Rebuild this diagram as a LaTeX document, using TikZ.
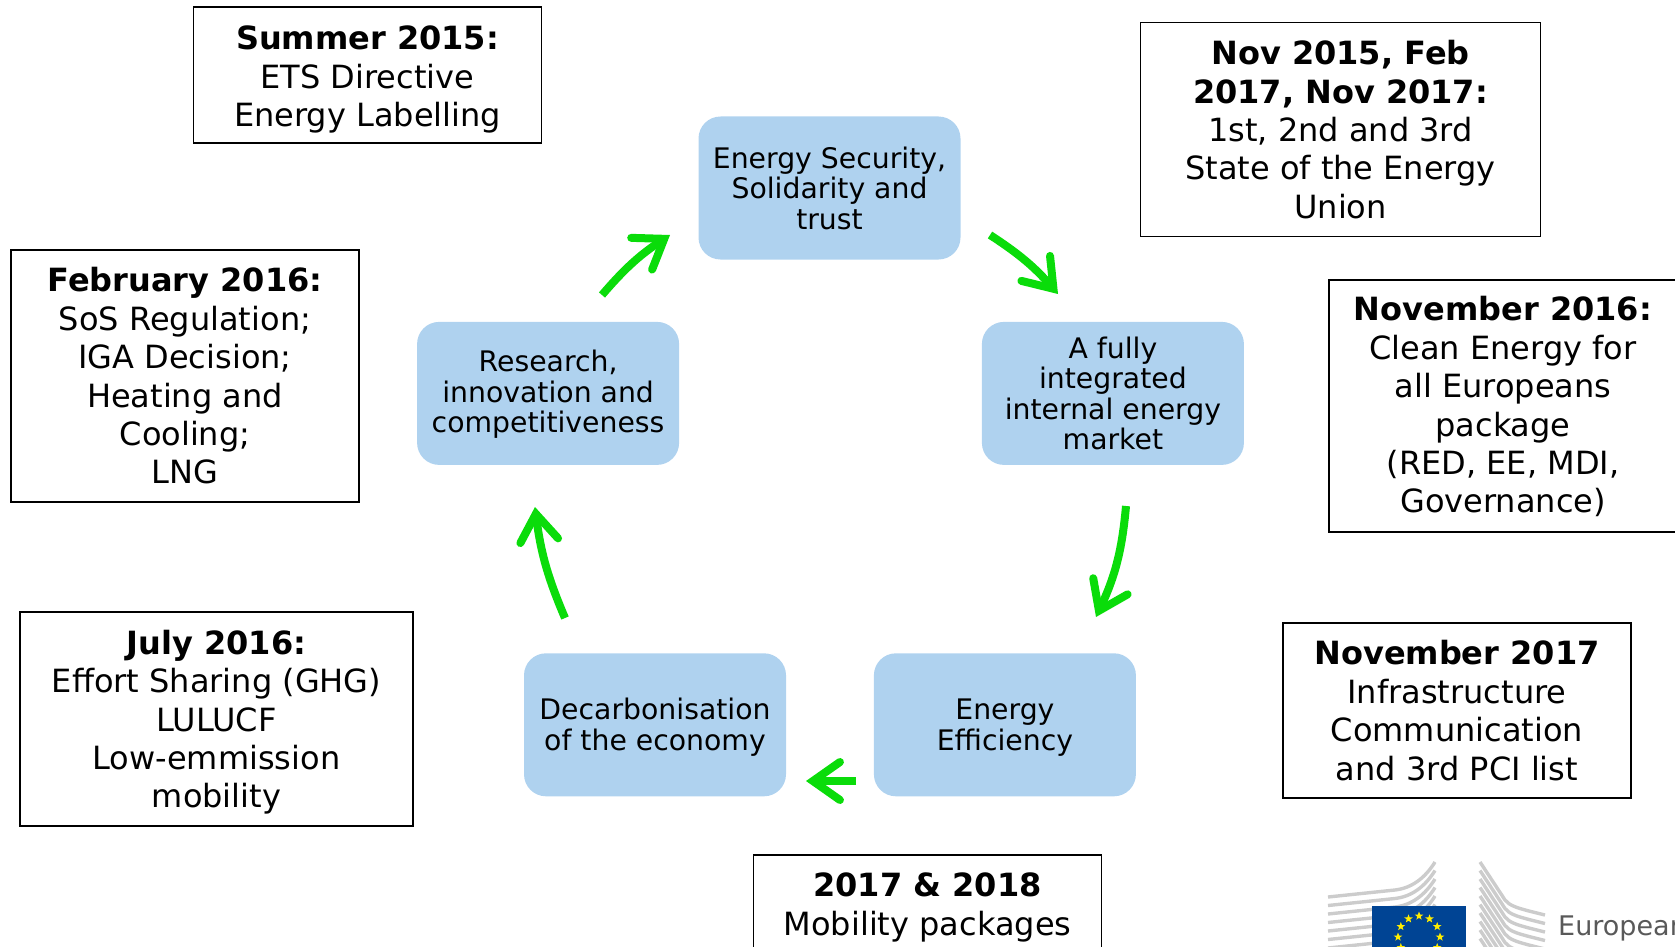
\documentclass[tikz,border=0pt]{standalone}
\usepackage{fontspec}
\setmainfont{DejaVu Sans}
\usetikzlibrary{positioning, arrows.meta, shapes.geometric}
\definecolor{flowblue}{HTML}{AFD2EF}
\definecolor{flowgreen}{HTML}{0ADC0A}
\definecolor{flagblue}{HTML}{004494}
\definecolor{flagyellow}{HTML}{FFED00}
\newcommand{\firstline}[1]{\rule{0pt}{#1}}
\begin{document}
\begin{tikzpicture}[x=1pt, y=-1pt,
  datebox/.style={rectangle, draw=black, line width=1.9pt, align=center, minimum width=348pt, inner sep=0pt, font=\fontsize{32}{38.4}\selectfont},
  flowbox/.style={rectangle, rounded corners=22pt, fill=flowblue, align=center, minimum width=262pt, minimum height=143pt, inner sep=0pt, font=\fontsize{28.3}{30.5}\selectfont},
  cyclearrow/.style={->, >={Straight Barb[length=27pt, width=38pt, line cap=round]}, flowgreen, line width=8pt},
  eustar/.style={star, star points=5, star point ratio=2.4, fill=flagyellow, inner sep=0pt, minimum size=9pt},
  buildline/.style={black!20, line width=3.4pt}]
\clip (0,0) rectangle (1675,947);
\useasboundingbox (0,0) rectangle (1675,947);
\node[flowbox]  (security)    at (829.5,188) {Energy Security,\\Solidarity and\\trust};
\node[flowbox]  (market)      [below right=62pt and 21pt of security] {A fully\\integrated\\internal energy\\market};
\node[flowbox]  (research)    [below left=62pt and 19pt of security] {\firstline{24pt}Research,\\innovation and\\competitiveness};
\node[flowbox]  (efficiency)  [below=188pt of market, xshift=-108pt] {\firstline{26pt}Energy\\Efficiency};
\node[flowbox]  (decarb)      [left=87.5pt of efficiency] {\firstline{26pt}Decarbonisation\\of the economy};
\node[datebox, minimum height=136pt]                       (summer)   at (367.5,75)  {\firstline{33pt}\textbf{Summer 2015:}\\ETS Directive\\Energy Labelling};
\node[datebox, minimum width=400pt, minimum height=214pt]  (stateof)  at (1340.5,129.5)  {\textbf{Nov 2015, Feb}\\\textbf{2017, Nov 2017:}\\1st, 2nd and 3rd\\State of the Energy\\Union};
\node[datebox, minimum height=252pt]                       (february) at (185,376)   {\textbf{February 2016:}\\SoS Regulation;\\IGA Decision;\\Heating and\\Cooling;\\LNG};
\node[datebox, minimum height=252pt]                       (cleanen)  at (1503,406)  {\firstline{26pt}\textbf{November 2016:}\\Clean Energy for\\all Europeans\\package\\(RED, EE, MDI,\\Governance)};
\node[datebox, minimum width=393pt, minimum height=214pt]  (july)     at (216.5,719) {\firstline{31pt}\textbf{July 2016:}\\Effort Sharing (GHG)\\LULUCF\\Low-emmission\\mobility};
\node[datebox, minimum height=175pt]                       (infra)    at (1457,710.5) {\textbf{November 2017}\\Infrastructure\\Communication\\and 3rd PCI list};
\node[datebox, minimum height=136pt, anchor=north]         (mobility) at (927.5,854)   {\firstline{36pt}\textbf{2017 \& 2018}\\Mobility packages\\\strut};
\coordinate (researchout)   at (602,295);
\coordinate (securityin)    at (670,235);
\coordinate (securityout)   at (990,235);
\coordinate (marketin)      at (1058,294);
\coordinate (marketout)     at (1126,506);
\coordinate (efficiencyin)  at (1096,617);
\coordinate (efficiencyout) at (856,781);
\coordinate (decarbin)      at (806,781);
\coordinate (decarbout)     at (565,618);
\coordinate (researchin)    at (535,507);
\draw[cyclearrow] (researchout) to [bend left=8] (securityin);
\draw[cyclearrow] (securityout) to [bend left=8] (marketin);
\draw[cyclearrow] (marketout) to [bend left=10] (efficiencyin);
\draw[cyclearrow] (efficiencyout) to (decarbin);
\draw[cyclearrow] (decarbout) to [bend right=-8] (researchin);
\foreach \i in {0,...,6}
  \draw[buildline] (1328,897+8.5*\i) -- (1395,890+8.5*\i) .. controls (1412,888+8.5*\i) and (1425,878+8.5*\i) .. (1435,862+8.5*\i);
\foreach \i in {0,...,9}
  \draw[buildline] (1480,862+8.5*\i) -- (1505,900+8.5*\i) .. controls (1510,906+8.5*\i) and (1516,908+8.5*\i) .. (1545,915+8.5*\i);
\fill[flagblue] (1372,906) rectangle (1466,960);
\foreach \a in {0,30,...,330}
  \node[eustar] (star\a) at ({1419+21*sin(\a)},{937-21*cos(\a)}) {};
\node[anchor=base west, inner sep=0pt, text=black!65, font=\fontsize{27}{27}\selectfont] (eclabel) at (1558,935) {European};
\end{tikzpicture}
\end{document}
